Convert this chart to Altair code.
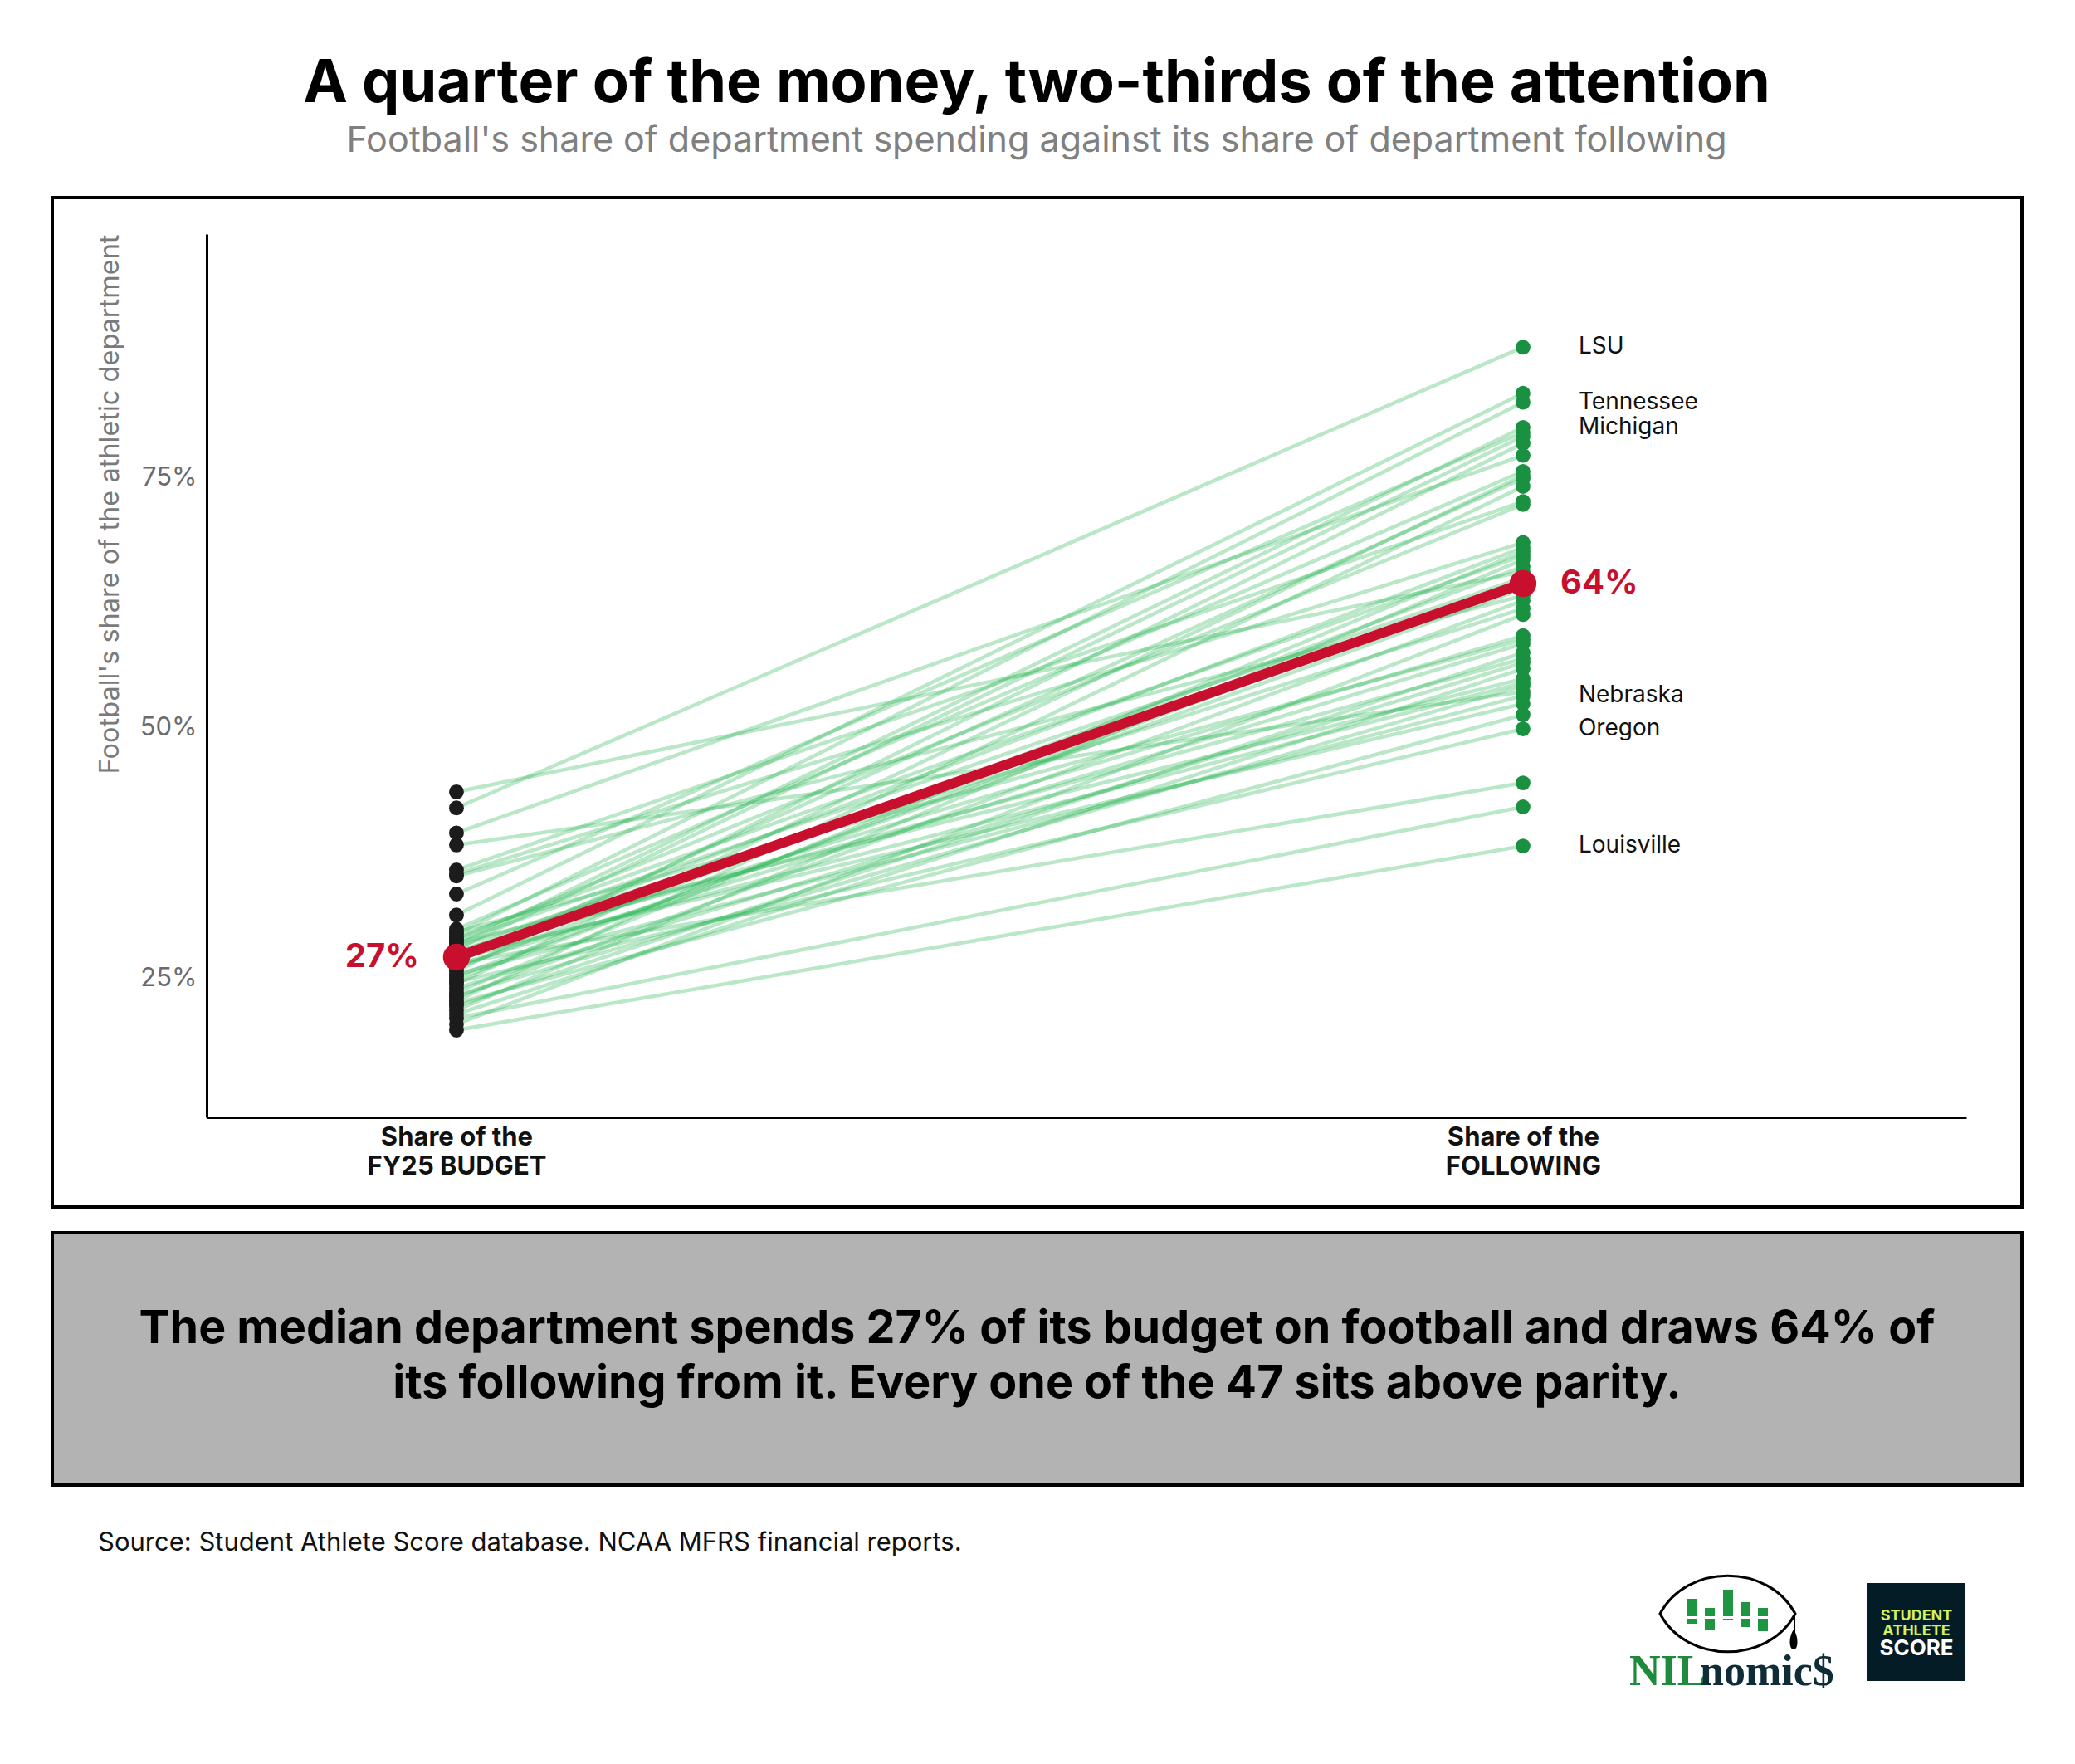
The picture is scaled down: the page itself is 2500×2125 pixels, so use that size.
import altair as alt
import pandas as pd

# ---------------- data ----------------
school_labels = ["LSU", "", "Tennessee", "Michigan", "", "", "", "", "", "", "",
                 "", "", "", "", "", "", "", "", "", "", "", "", "", "", "", "",
                 "", "", "", "", "", "", "", "", "", "", "", "", "", "Nebraska",
                 "", "", "Oregon", "", "", "Louisville"]
budget_share = [42.0, 31.3, 29.4, 28.3, 33.4, 27.9, 25.7, 39.5, 29.9, 24.4, 26.6,
                22.7, 35.8, 28.9, 35.4, 27.5, 23.6, 29.1, 21.8, 26.0, 43.6, 28.7,
                24.9, 27.1, 25.2, 35.2, 23.1, 28.1, 20.4, 27.3, 29.6, 26.3, 22.2,
                27.7, 24.0, 21.4, 28.5, 26.9, 23.3, 38.3, 25.4, 27.2, 22.5, 24.6,
                26.5, 21.0, 19.8]
following_share = [88.0, 83.4, 82.5, 80.0, 79.5, 79.1, 78.4, 77.2, 75.6, 75.2, 74.9,
                   74.1, 72.6, 72.3, 68.5, 68.0, 67.6, 67.2, 66.8, 66.1, 65.6, 65.0,
                   64.8, 64.4, 63.9, 63.2, 62.7, 61.9, 61.3, 59.2, 58.8, 58.4, 57.5,
                   56.9, 56.5, 55.9, 54.9, 54.5, 54.2, 53.6, 53.2, 52.4, 51.3, 49.9,
                   44.5, 42.1, 38.2]
y_tick_values = [25, 50, 75]
side_labels = [["Share of the", "FY25 BUDGET"], ["Share of the", "FOLLOWING"]]

title_text = "A quarter of the money, two-thirds of the attention"
subtitle_text = "Football's share of department spending against its share of department following"
y_title = "Football's share of the athletic department"
summary_lines = ["The median department spends 27% of its budget on football and draws 64% of",
                 "its following from it. Every one of the 47 sits above parity."]
source_text = "Source: Student Athlete Score database. NCAA MFRS financial reports."

rows = []
for i, (lab, b, f) in enumerate(zip(school_labels, budget_share, following_share)):
    rows.append({"school": i, "label": lab, "side": 0, "value": b})
    rows.append({"school": i, "label": lab, "side": 1, "value": f})
df = pd.DataFrame(rows)

# ---------------- layout ----------------
W, H = 2120, 1064
FONT = "Inter"
RED = "#c8102e"
one = alt.Data(values=[{"k": 0}])

xs = alt.Scale(domain=[-0.2342, 1.4156], nice=False, zero=False)
ys = alt.Scale(domain=[11.1, 99.3], nice=False, zero=False)

def js_arr(a):
    return "[" + ",".join("'" + s + "'" for s in a) + "]"

x_label_expr = "datum.value == 0 ? " + js_arr(side_labels[0]) + " : " + js_arr(side_labels[1])

x_axis = alt.Axis(values=[0, 1], labelExpr=x_label_expr, ticks=False, grid=False,
                  domainColor="black", domainWidth=3, labelFont=FONT, labelFontSize=31,
                  labelFontWeight="bold", labelColor="#111111", labelPadding=9,
                  labelLineHeight=35, labelAngle=0, labelAlign="center",
                  labelBaseline="top", labelLimit=1000, title="", zindex=1)
y_axis = alt.Axis(values=y_tick_values, labelExpr="datum.value + '%'", ticks=False,
                  grid=False, domainColor="black", domainWidth=3, labelFont=FONT,
                  labelFontSize=31, labelColor="#6b6b6b", labelPadding=12,
                  title=y_title, titleFont=FONT, titleFontSize=32.5,
                  titleFontWeight="normal", titleColor="#7a7a7a", titleAngle=-90,
                  titleX=-117, titleY=0, titleAlign="right", titleBaseline="middle",
                  titleLimit=2000, zindex=1)

X = alt.X("side:Q", scale=xs, axis=x_axis)
Y = alt.Y("value:Q", scale=ys, axis=y_axis)
MY = alt.Y("med:Q", scale=ys, axis=y_axis)

def rect(x1, x2, y1, y2, **kw):
    return alt.Chart(one).mark_rect(**kw).encode(
        x=alt.value(x1), x2=alt.value(x2), y=alt.value(y1), y2=alt.value(y2))

def text(x, y, t, **kw):
    return alt.Chart(one).mark_text(text=t, **kw).encode(x=alt.value(x), y=alt.value(y))

# frames
chart_box = rect(-186, 2187, -44, 1172, fill="white", fillOpacity=0, stroke="black",
                 strokeWidth=4)
gray_box = rect(-186, 2187, 1203, 1507, fill="#b3b3b3", stroke="black", strokeWidth=4)

base = alt.Chart(df)
lines = base.mark_line(color="#2cb555", opacity=0.33, strokeWidth=4.5).encode(
    x=X, y=Y, detail="school:N")
left_dots = base.transform_filter("datum.side == 0").mark_circle(
    size=320, color="#1c1c1c", opacity=1).encode(x=X, y=Y)
right_dots = base.transform_filter("datum.side == 1").mark_circle(
    size=320, color="#1a9140", opacity=1).encode(x=X, y=Y)

med = base.transform_aggregate(med="median(value)", groupby=["side"]).transform_calculate(
    lab="format(datum.med, '.0f') + '%'")
med_line = med.mark_line(color=RED, strokeWidth=12).encode(x=X, y=MY)
med_dots = med.mark_circle(size=1050, color=RED, opacity=1).encode(x=X, y=MY)
med_lab_l = med.transform_filter("datum.side == 0").mark_text(
    align="right", dx=-45, baseline="middle", font=FONT, fontSize=40,
    fontWeight="bold", color=RED).encode(x=X, y=MY, text="lab:N")
med_lab_r = med.transform_filter("datum.side == 1").mark_text(
    align="left", dx=45, baseline="middle", font=FONT, fontSize=40,
    fontWeight="bold", color=RED).encode(x=X, y=MY, text="lab:N")

school_lab = base.transform_filter("datum.side == 1 && datum.label != ''").mark_text(
    align="left", dx=67, baseline="middle", font=FONT, fontSize=28,
    color="#111111").encode(x=X, y=Y, text="label:N")

# titles and notes
title = text(1000, -159, title_text, font=FONT, fontSize=72, fontWeight="bold",
             align="center", baseline="alphabetic", color="#000000")
subtitle = text(1000, -99, subtitle_text, font=FONT, fontSize=43, align="center",
                baseline="alphabetic", color="#808080")
summary = text(1000.5, 1336, summary_lines, font=FONT, fontSize=55.5, fontWeight="bold",
               align="center", baseline="alphabetic", color="#000000", lineHeight=66)
source = text(-131, 1586, source_text, font=FONT, fontSize=31, align="left",
              baseline="alphabetic", color="#111111")

# logos
football_path = "M-1,0 C-0.6,-0.75 0.6,-0.75 1,0 C0.6,0.75 -0.6,0.75 -1,0 Z"
football = alt.Chart(one).mark_point(shape=football_path, filled=False, stroke="black",
                                     strokeWidth=3, size=26569, opacity=1).encode(
    x=alt.value(1832.5), y=alt.value(1662))
LG = "#1e9641"
bars = [rect(1784, 1796, 1644, 1674, fill=LG), rect(1805, 1817, 1655, 1681, fill=LG),
        rect(1827, 1839, 1633, 1670, fill=LG), rect(1848, 1860, 1648, 1678, fill=LG),
        rect(1869, 1881, 1655, 1683, fill=LG)]
bar_gap = rect(1780, 1885, 1665, 1668, fill="white")
tassel = alt.Chart(one).mark_rule(color="black", strokeWidth=2).encode(
    x=alt.value(1913), y=alt.value(1661), y2=alt.value(1685))
drop_path = "M0,-1 C0.5,-0.3 0.5,1 0,1 C-0.5,1 -0.5,-0.3 0,-1 Z"
tassel_end = alt.Chart(one).mark_point(shape=drop_path, filled=True, color="black",
                                       size=576, opacity=1).encode(
    x=alt.value(1912), y=alt.value(1693))
nil = text(1714, 1748, "NIL", font="Liberation Serif", fontSize=52, fontWeight="bold",
           align="left", baseline="alphabetic", color="#1e8a3c")
nomics = text(1799, 1748, "nomic$", font="Liberation Serif", fontSize=52,
              fontWeight="bold", align="left", baseline="alphabetic", color="#0f2d38")
sas_box = rect(2001, 2119, 1625, 1743, fill="#031c26")
sas12 = text(2060, 1670, ["STUDENT", "ATHLETE"], font=FONT, fontSize=18,
             fontWeight="bold", align="center", baseline="alphabetic", color="#d4f25c",
             lineHeight=17.5)
sas3 = text(2060, 1712, "SCORE", font=FONT, fontSize=26, fontWeight="bold",
            align="center", baseline="alphabetic", color="#ffffff")

chart = alt.layer(
    chart_box, gray_box, lines, left_dots, right_dots, med_line, med_dots,
    med_lab_l, med_lab_r, school_lab, title, subtitle, summary, source,
    football, *bars, bar_gap, tassel, tassel_end, nil, nomics, sas_box, sas12, sas3,
).properties(
    width=W, height=H,
    padding={"left": 241, "top": 274, "right": 123, "bottom": 771},
    autosize=alt.AutoSizeParams(type="none"),
    background="white",
).configure_view(stroke="transparent")

chart.save("out.html", embed_options={"renderer": "svg", "actions": False})
